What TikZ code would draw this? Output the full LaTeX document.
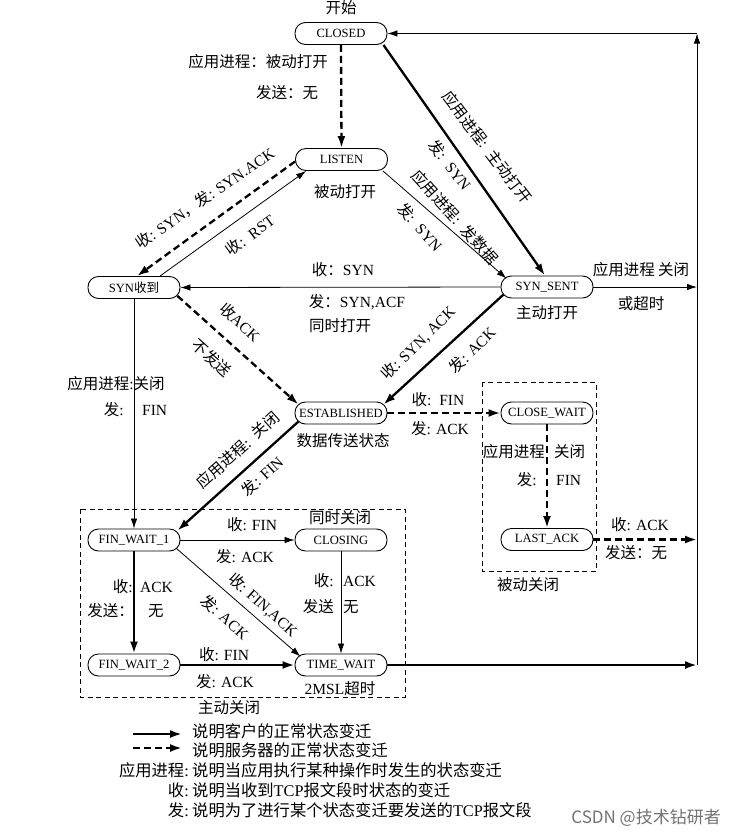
\documentclass[tikz,border=0pt]{standalone}
\usepackage{fontspec}
\setmainfont{Liberation Serif}
\newfontfamily\zh{Noto Sans CJK SC}
\usetikzlibrary{arrows.meta}
\newcommand\Z[1]{{\zh #1}}
\begin{document}
\begin{tikzpicture}[x=1pt,y=-1pt,
  state/.style={draw, line width=0.9pt, rounded corners=10.5pt, minimum width=92pt, minimum height=22pt, inner sep=0pt, font=\fontsize{12.6}{14}\selectfont},
  lbl/.style={inner sep=0pt, font=\fontsize{15.5}{18}\selectfont},
  leg/.style={inner sep=0pt, font=\fontsize{16.3}{18}\selectfont},
  thk/.style={line width=2.3pt, -{Latex[length=12pt,width=8pt]}},
  thn/.style={line width=0.8pt, -{Latex[length=10pt,width=6.5pt]}},
  dsh/.style={thk, dash pattern=on 7pt off 4pt},
  grp/.style={line width=0.8pt, dash pattern=on 5pt off 3.5pt}]
\useasboundingbox (0,0) rectangle (735,836);
\fill[white] (0,0) rectangle (735,836);

% states
\node[state] (closed) at (341,33.5) {CLOSED};
\node[state] (listen) at (341.5,159.5) {LISTEN};
\node[state] (synr) at (134,287.5) {SYN\Z{收到}};
\node[state] (synsent) at (547,287) {SYN\_SENT};
\node[state] (est) at (341,413) {ESTABLISHED};
\node[state] (cw) at (547,413) {CLOSE\_WAIT};
\node[state] (la) at (547,539.5) {LAST\_ACK};
\node[state] (fw1) at (134,540) {FIN\_WAIT\_1};
\node[state] (closing) at (341,540) {CLOSING};
\node[state] (fw2) at (134,665) {FIN\_WAIT\_2};
\node[state] (tw) at (341,665) {TIME\_WAIT};

% right return line
\coordinate (rtop) at (697,33.5);
\coordinate (rbot) at (697,665);
\coordinate (r1) at (697,287);
\coordinate (r2) at (697,539.5);

% group boxes
\draw[grp] (80,509) rectangle (405,697);
\draw[grp] (482,382) rectangle (596,571);

% connectors
\draw[dsh] (closed.south) -- (listen.north);
\draw[thk] ([xshift=-4pt]closed.south east) -- ([xshift=-2pt]synsent.north);
\draw[thn] ([xshift=-5pt]listen.south east) -- ([xshift=6pt,yshift=-3pt]synsent.north west);
\draw[dsh] ([yshift=-2pt]listen.west) -- ([xshift=3pt]synr.north);
\draw[thn] ([xshift=26pt]synr.north) -- ([xshift=11pt]listen.south west);
\draw[thn] (synsent.west) -- (synr.east);
\draw[thn] (synsent.east) -- (r1);
\draw[dsh] ([xshift=-3pt,yshift=3pt]synr.south east) -- ([xshift=4pt,yshift=-3pt]est.north west);
\draw[thk] ([xshift=3pt,yshift=4pt]synsent.south west) -- ([xshift=-4pt,yshift=-3pt]est.north east);
\draw[dsh] (est.east) -- (cw.west);
\draw[dsh] (cw.south) -- (la.north);
\draw[dsh] (la.east) -- (r2);
\draw[thk] ([xshift=4pt,yshift=3pt]est.south west) -- ([xshift=-3pt,yshift=-2pt]fw1.north east);
\draw[thn] (synr.south) -- (fw1.north);
\draw[thn] (fw1.east) -- (closing.west);
\draw[thn] ([xshift=-4pt,yshift=3pt]fw1.south east) -- ([xshift=6pt,yshift=-3pt]tw.north west);
\draw[thn] (closing.south) -- (tw.north);
\draw[thk] (fw1.south) -- (fw2.north);
\draw[thk] (fw2.east) -- (tw.west);
\draw[thk] (tw.east) -- (rbot);
\draw[thn] (rbot) -- (rtop);
\draw[thn] (rtop) -- (closed.east);

% labels
\node[lbl] (l1) at (341,8) {\Z{开始}};
\node[lbl] (l2) at (258,62) {\Z{应用进程：被动打开}};
\node[lbl] (l3) at (287,93) {\Z{发送：无}};
\node[lbl] (l4) at (345,192) {\Z{被动打开}};
\node[lbl,rotate=-52.7] (l5) at (487,147) {\Z{应用进程}:\ \ \Z{主动打开}};
\node[lbl,rotate=-52.7] (l6) at (450,165) {\Z{发}:\ \ SYN};
\node[lbl,rotate=-48] (l7) at (455,217) {\Z{应用进程}:\ \ \Z{发数据}};
\node[lbl,rotate=-48] (l8) at (420,227) {\Z{发}:\ \ SYN};
\node[lbl,rotate=34.5] (l9) at (205,198) {\Z{收}: SYN\Z{，发}: SYN.ACK};
\node[lbl,rotate=36] (l10) at (250,235) {\Z{收}:\ \ RST};
\node[lbl] (l11) at (343,270) {\Z{收：}SYN};
\node[lbl] (l12) at (357,302) {\Z{发：}SYN,ACF};
\node[lbl] (l13) at (340,326) {\Z{同时打开}};
\node[lbl] (l14) at (641,270) {\Z{应用进程 关闭}};
\node[lbl] (l15) at (641,304) {\Z{或超时}};
\node[lbl] (l16) at (547,313) {\Z{主动打开}};
\node[lbl,rotate=-42] (l17) at (240,322) {\Z{收}ACK};
\node[lbl,rotate=-42] (l18) at (212,358) {\Z{不发送}};
\node[lbl,rotate=44.5] (l19) at (418,343) {\Z{收}: SYN, ACK};
\node[lbl,rotate=44.5] (l20) at (472,350) {\Z{发}: ACK};
\node[lbl] (l21) at (438,400) {\Z{收}:\ \ FIN};
\node[lbl] (l22) at (440,429) {\Z{发}: ACK};
\node[lbl] (l23) at (343,441) {\Z{数据传送状态}};
\node[lbl,anchor=east] (l24) at (545,452) {\Z{应用进程}};
\node[lbl,anchor=west] (l25) at (554,452) {\Z{关闭}};
\node[lbl,anchor=east] (l26) at (537,480) {\Z{发}:};
\node[lbl,anchor=west] (l27) at (556,480) {FIN};
\node[lbl] (l28) at (528,585) {\Z{被动关闭}};
\node[lbl] (l29) at (640,525) {\Z{收}: ACK};
\node[lbl] (l30) at (636,553) {\Z{发送：无}};
\node[lbl,rotate=42] (l31) at (238,450) {\Z{应用进程}:\ \ \Z{关闭}};
\node[lbl,rotate=42] (l32) at (262,476) {\Z{发}: FIN};
\node[lbl] (l33) at (116,384) {\Z{应用进程}:\Z{关闭}};
\node[lbl,anchor=east] (l34) at (124,410) {\Z{发}:};
\node[lbl,anchor=west] (l35) at (142,410) {FIN};
\node[lbl] (l36) at (252,525) {\Z{收}: FIN};
\node[lbl] (l37) at (245,557) {\Z{发}: ACK};
\node[lbl] (l38) at (340,518) {\Z{同时关闭}};
\node[lbl,rotate=-41.5] (l39) at (263,605) {\Z{收}: FIN,ACK};
\node[lbl,rotate=-41.5] (l40) at (225,617) {\Z{发}: ACK};
\node[lbl,anchor=east] (l41) at (334,581) {\Z{收}:};
\node[lbl,anchor=west] (l42) at (343,581) {ACK};
\node[lbl,anchor=east] (l43) at (334,607) {\Z{发送}};
\node[lbl,anchor=west] (l44) at (343,607) {\Z{无}};
\node[lbl,anchor=east] (l45) at (133,587) {\Z{收}:};
\node[lbl,anchor=west] (l46) at (140,587) {ACK};
\node[lbl,anchor=east] (l47) at (134,611) {\Z{发送：}};
\node[lbl,anchor=west] (l48) at (148,611) {\Z{无}};
\node[lbl] (l49) at (224,655) {\Z{收}: FIN};
\node[lbl] (l50) at (225,682) {\Z{发}: ACK};
\node[lbl] (l51) at (340,689) {2MSL\Z{超时}};
\node[lbl] (l52) at (229,708) {\Z{主动关闭}};

% legend
\coordinate (ga) at (133,734);
\coordinate (gb) at (182,734);
\coordinate (gc) at (133,748);
\coordinate (gd) at (182,748);
\draw[line width=2.3pt, -{Latex[length=12pt,width=8pt]}] (ga) -- (gb);
\draw[line width=2.3pt, dash pattern=on 7pt off 4pt, -{Latex[length=12pt,width=8pt]}] (gc) -- (gd);
\node[leg,anchor=west] (g1) at (192,731) {\Z{说明客户的正常状态变迁}};
\node[leg,anchor=west] (g2) at (192,750) {\Z{说明服务器的正常状态变迁}};
\node[leg,anchor=east] (g3k) at (189,770) {\Z{应用进程}:};
\node[leg,anchor=west] (g3) at (192,770) {\Z{说明当应用执行某种操作时发生的状态变迁}};
\node[leg,anchor=east] (g4k) at (189,790) {\Z{收}:};
\node[leg,anchor=west] (g4) at (192,790) {\Z{说明当收到}TCP\Z{报文段时状态的变迁}};
\node[leg,anchor=east] (g5k) at (189,810) {\Z{发}:};
\node[leg,anchor=west] (g5) at (192,810) {\Z{说明为了进行某个状态变迁要发送的}TCP\Z{报文段}};

% watermark
\node[inner sep=0pt, text=black!55, font=\zh\fontsize{17}{19}\selectfont, anchor=east] (wm) at (721,818) {CSDN @技术钻研者};
\end{tikzpicture}
\end{document}
